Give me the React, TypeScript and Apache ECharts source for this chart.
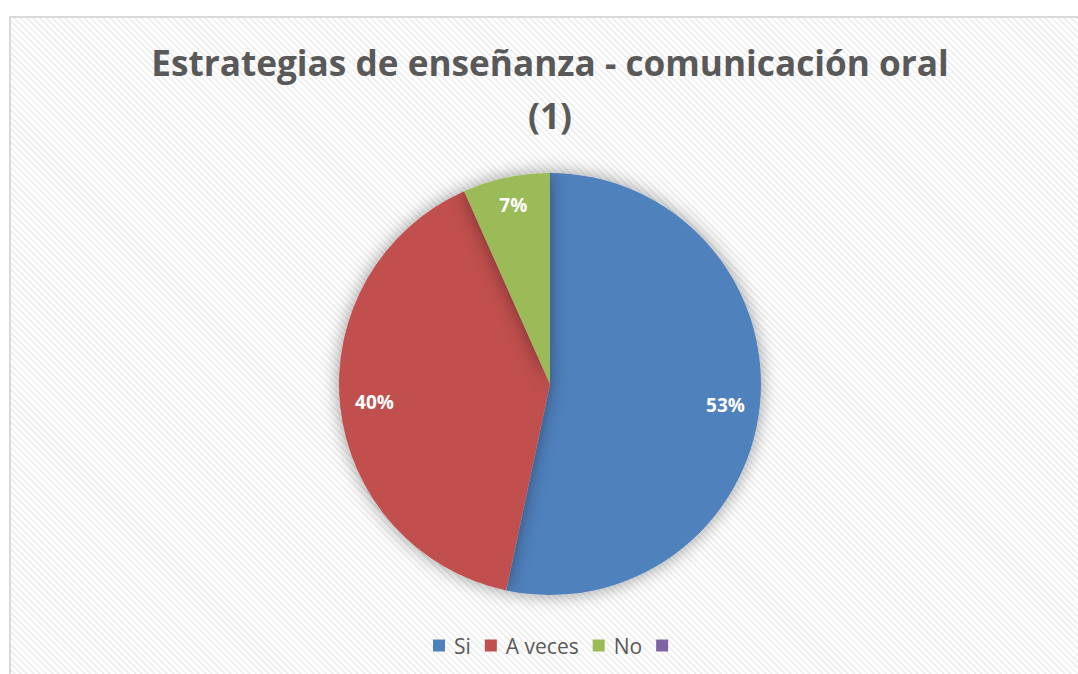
import React, { useEffect, useRef } from "react";
import * as echarts from "echarts";

const titleText = "Estrategias de enseñanza - comunicación oral\n(1)";
const categories = ["Si", "A veces", "No", " "];
const values = [8, 6, 1, 0];
const colors = ["#4f81bd", "#c0504d", "#9bbb59", "#8064a2"];
const labelShiftY = [3, 0, -6, 0];

export default function App() {
  const ref = useRef<HTMLDivElement>(null);
  useEffect(() => {
    const chart = echarts.init(ref.current!, null, { renderer: "svg" });
    const data = categories.map((c, i) => ({ name: c, value: values[i] }));
    chart.setOption({
      animation: false,
      backgroundColor: "transparent",
      color: colors,
      title: {
        text: titleText,
        left: 545,
        top: 30,
        textAlign: "center",
        textStyle: {
          fontFamily: "Open Sans",
          fontWeight: "bold",
          fontSize: 35.2,
          lineHeight: 53,
          color: "#595959",
        },
      },
      legend: {
        top: 630,
        left: 428,
        itemWidth: 12,
        itemHeight: 12,
        itemGap: 14,
        icon: "rect",
        data: categories.map((c) => ({ name: c })),
        textStyle: { fontFamily: "Open Sans", fontSize: 21, color: "#595959", padding: [0, 0, 0, 4] },
      },
      series: [
        {
          type: "pie",
          center: [550, 384],
          radius: 211,
          startAngle: 90,
          clockwise: true,
          avoidLabelOverlap: false,
          data,
          itemStyle: {
            shadowBlur: 18,
            shadowColor: "rgba(0,0,0,0.4)",
          },
          label: { show: false },
          labelLine: { show: false },
        },
        {
          type: "pie",
          center: [550, 384],
          radius: [136, 211],
          startAngle: 90,
          clockwise: true,
          silent: true,
          avoidLabelOverlap: false,
          data,
          legendHoverLink: false,
          itemStyle: { color: "transparent" },
          label: {
            position: "inside",
            formatter: (p: any) => (p.value > 0 ? Math.round(p.percent) + "%" : ""),
            color: "#ffffff",
            fontFamily: "Open Sans",
            fontWeight: "bold",
            fontSize: 19,
          },
          labelLayout: (p: any) => ({ dy: labelShiftY[p.dataIndex] }),
          labelLine: { show: false },
        },
      ],
    });
    return () => chart.dispose();
  }, []);
  return (
    <>
      <div
        style={{
          position: "fixed",
          left: 9,
          top: 16,
          width: 1080,
          height: 670,
          border: "2px solid #d9d9d9",
          background:
            "repeating-linear-gradient(45deg, #ffffff 0px, #ffffff 2.5px, #f0f0f0 2.5px, #f0f0f0 4.5px)",
        }}
      />
      <div ref={ref} style={{ position: "fixed", left: 0, top: 0, width: 1078, height: 674 }} />
    </>
  );
}
